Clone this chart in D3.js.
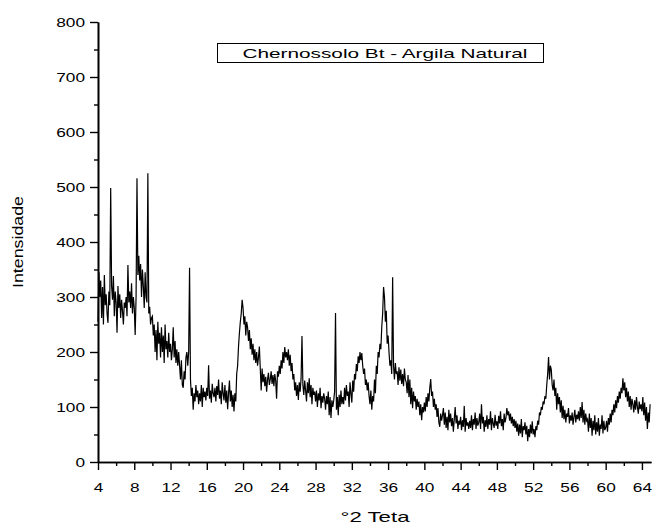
<!DOCTYPE html>
<html><head><meta charset="utf-8">
<script src="https://cdn.jsdelivr.net/npm/d3@7"></script>
<style>body{margin:0;background:#fff} svg{display:block;font-family:"Liberation Sans",Arial,sans-serif}</style>
</head><body>
<svg id="c" width="654" height="529"></svg>
<script>
// ---- data (°2θ sampled every 0.1° starting at 4.0) ----
const twoThetaStart = 4.0;
const twoThetaStep = 0.1;
const intensity = [
  255,345,300,330,262,318,250,340,285,305, // 4
  270,253,310,285,498,320,295,338,265,310, // 5
  290,235,320,280,305,262,295,275,250,290, // 6
  280,300,265,358,290,310,280,325,270,300, // 7
  280,231,300,516,340,375,330,360,300,350, // 8
  320,280,345,300,290,525,270,282,250,262, // 9
  265,230,250,200,240,185,255,215,235,190, // 10
  245,200,230,180,250,205,220,190,235,200, // 11
  215,185,205,245,190,220,180,205,175,200, // 12
  175,150,185,140,135,165,150,190,200,175, // 13
  200,353,150,120,135,95,125,110,140,118,  // 14
  130,105,125,110,140,100,135,118,128,112, // 15
  135,120,176,115,130,108,142,125,118,135, // 16
  110,138,122,150,115,130,105,145,125,112, // 17
  140,108,130,96,125,148,110,130,100,122,  // 18
  92,125,110,160,175,210,235,255,270,295,  // 19
  280,250,265,230,255,245,220,240,205,225, // 20
  195,215,185,205,180,200,175,190,210,170, // 21
  130,170,145,160,138,155,128,150,162,140, // 22
  150,165,142,158,138,160,148,115,165,155, // 23
  175,160,185,170,200,180,209,190,200,185, // 24
  205,175,195,165,180,150,160,130,145,120, // 25
  140,113,145,128,152,229,140,122,148,130, // 26
  110,145,125,152,118,140,105,135,122,128, // 27
  110,130,100,125,112,135,98,120,108,125,  // 28
  115,95,120,105,128,85,118,80,112,100,    // 29
  112,128,271,95,118,85,122,100,130,105,   // 30
  118,105,135,112,140,120,128,100,145,125, // 31
  108,148,128,160,150,178,165,192,180,200, // 32
  185,198,175,160,170,140,150,130,145,120, // 33
  105,130,95,120,110,150,125,175,160,200,  // 34
  190,215,205,245,270,318,300,255,275,215, // 35
  230,200,175,185,160,336,175,150,180,160, // 36
  165,140,172,148,168,142,160,138,170,150, // 37
  145,125,158,118,150,105,135,98,128,110,  // 38
  120,95,115,100,110,85,105,76,100,90,     // 39
  108,92,118,100,125,110,135,151,120,128,  // 40
  100,115,95,105,82,98,72,64,88,75,        // 41
  85,98,68,90,62,82,58,95,72,88,           // 42
  65,80,55,78,100,70,85,60,75,68,          // 43
  82,58,76,64,102,55,80,66,72,60,          // 44
  75,62,85,58,78,68,90,60,80,66,           // 45
  72,88,60,105,70,82,55,76,64,85,          // 46
  60,78,68,92,58,80,70,62,86,66,           // 47
  74,60,84,70,92,65,78,58,88,72,           // 48
  80,98,85,92,75,88,70,82,65,78,           // 49
  62,75,55,70,48,68,52,78,45,65,           // 50
  58,72,50,66,38,60,45,68,52,74,           // 51
  50,60,45,65,58,75,68,90,85,100,          // 52
  95,110,105,120,115,140,160,191,150,175,  // 53
  168,140,130,150,120,135,95,125,105,118,  // 54
  90,112,80,102,78,95,72,88,82,98,         // 55
  70,85,75,90,68,82,95,72,86,78,           // 56
  92,75,100,80,109,72,95,68,88,75,         // 57
  78,55,88,62,80,48,75,58,85,50,           // 58
  72,55,80,48,68,60,85,52,75,58,           // 59
  62,75,55,80,68,88,72,95,85,105,          // 60
  90,112,98,120,108,128,115,135,125,152,   // 61
  130,145,118,135,110,128,100,120,95,115,  // 62
  105,90,112,95,118,100,88,110,96,105,     // 63
  92,118,85,108,75,100,60,90,72,105        // 64
];
const xMajorTicks = [4,8,12,16,20,24,28,32,36,40,44,48,52,56,60,64];
const xMinorTicks = [6,10,14,18,22,26,30,34,38,42,46,50,54,58,62];
const yMajorTicks = [0,100,200,300,400,500,600,700,800];
const yMinorTicks = [50,150,250,350,450,550,650,750];
const legendText = "Chernossolo Bt - Argila Natural";
const xTitle = "°2 Teta";
const yTitle = "Intensidade";

// ---- drawing ----
const svg = d3.select("#c");
const x = d3.scaleLinear().domain([4, 65]).range([98, 651]);
const y = d3.scaleLinear().domain([0, 800]).range([462, 22]);
const digitW = 9.6;

const pts = intensity.map((v, i) => [twoThetaStart + i * twoThetaStep, v]);

svg.append("path")
  .datum(pts)
  .attr("fill", "none")
  .attr("stroke", "#000")
  .attr("stroke-width", 1.2)
  .attr("stroke-linejoin", "miter")
  .attr("d", d3.line().x(d => x(d[0])).y(d => y(d[1])));

// x axis
const gx = svg.append("g").attr("transform", `translate(0,${y(0)})`);
gx.call(d3.axisBottom(x).tickValues(xMinorTicks).tickSize(4).tickSizeOuter(0).tickFormat(""));
const gx2 = svg.append("g").attr("transform", `translate(0,${y(0)})`);
gx2.call(d3.axisBottom(x).tickValues(xMajorTicks).tickSize(8).tickSizeOuter(0).tickPadding(13));
[gx, gx2].forEach(g => {
  g.selectAll("path.domain").attr("stroke-width", 1.6);
  g.selectAll(".tick line").attr("stroke-width", 1.4);
});
gx2.selectAll(".tick text")
  .attr("font-size", 13).attr("font-family", "Liberation Sans, Arial, sans-serif").attr("fill", "#000")
  .attr("textLength", d => String(d).length * digitW)
  .attr("lengthAdjust", "spacingAndGlyphs");

// y axis
const gy = svg.append("g").attr("transform", `translate(${x(4)},0)`);
gy.call(d3.axisLeft(y).tickValues(yMinorTicks).tickSize(4).tickSizeOuter(0).tickFormat(""));
const gy2 = svg.append("g").attr("transform", `translate(${x(4)},0)`);
gy2.call(d3.axisLeft(y).tickValues(yMajorTicks).tickSize(8).tickSizeOuter(0).tickPadding(5));
[gy, gy2].forEach(g => {
  g.selectAll("path.domain").attr("stroke-width", 1.6);
  g.selectAll(".tick line").attr("stroke-width", 1.4);
});
gy2.selectAll(".tick text")
  .attr("font-size", 13).attr("font-family", "Liberation Sans, Arial, sans-serif").attr("fill", "#000")
  .attr("textLength", d => String(d).length * digitW)
  .attr("lengthAdjust", "spacingAndGlyphs");

// axis titles
svg.append("text")
  .attr("x", 375).attr("y", 522)
  .attr("text-anchor", "middle")
  .attr("font-size", 15)
  .attr("textLength", 69).attr("lengthAdjust", "spacingAndGlyphs")
  .text(xTitle);

svg.append("text")
  .attr("transform", `translate(23,${(y(0) + y(800)) / 2}) rotate(-90)`)
  .attr("text-anchor", "middle")
  .attr("font-size", 14.5)
  .attr("textLength", 92).attr("lengthAdjust", "spacingAndGlyphs")
  .text(yTitle);

// legend / title box
svg.append("rect")
  .attr("x", 217.5).attr("y", 43.5).attr("width", 326).attr("height", 19)
  .attr("fill", "#fff").attr("stroke", "#000").attr("stroke-width", 1);
svg.append("text")
  .attr("x", 385).attr("y", 58)
  .attr("text-anchor", "middle")
  .attr("font-size", 13.5)
  .attr("textLength", 285).attr("lengthAdjust", "spacingAndGlyphs")
  .text(legendText);
</script>
</body></html>
